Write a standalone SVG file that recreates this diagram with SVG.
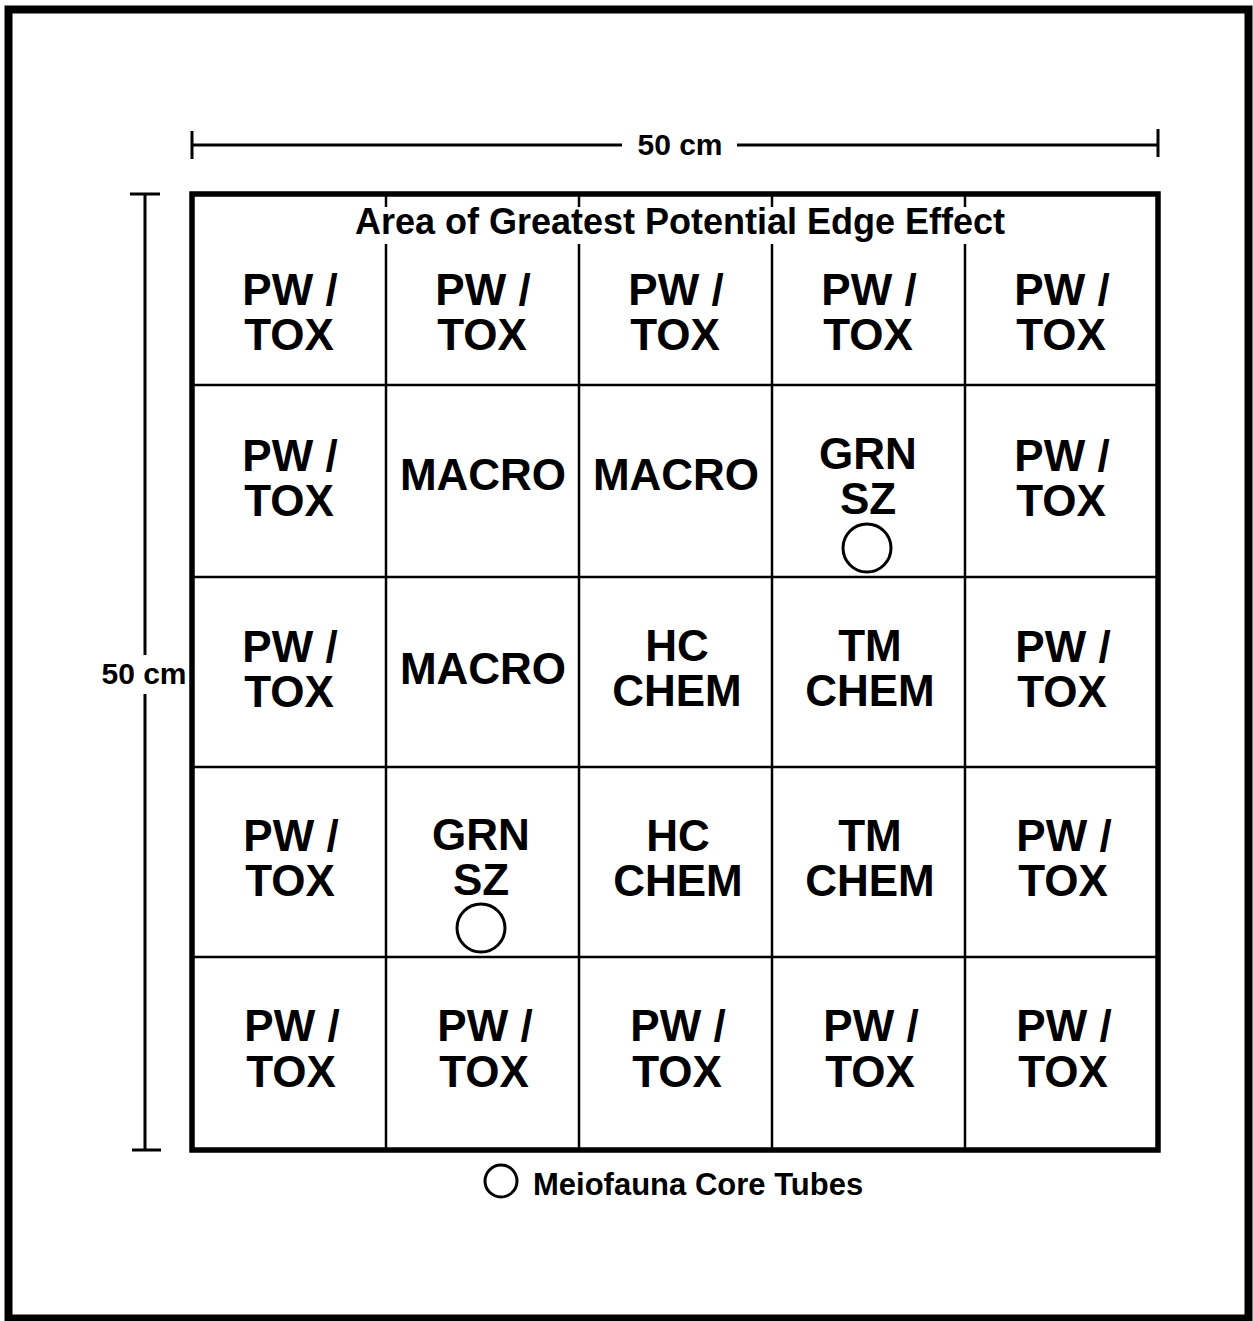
<svg xmlns="http://www.w3.org/2000/svg" width="1253" height="1321" viewBox="0 0 1253 1321">
<style>
.t{font-family:"Liberation Sans",Arial,Helvetica,sans-serif;font-weight:bold;fill:#000;text-anchor:middle}
.c{font-size:44px}
.thin{stroke:#000;stroke-width:2.5;fill:none}
.dim{stroke:#000;stroke-width:3;fill:none}
.tube{stroke:#000;stroke-width:3;fill:none}
</style>
<rect x="0" y="0" width="1253" height="1321" fill="#fff"/>
<rect id="frame" x="8.5" y="9.5" width="1240" height="1309" fill="none" stroke="#000" stroke-width="8"/>

<g id="dimensions">
  <line class="dim" x1="192" y1="145" x2="622" y2="145"/>
  <line class="dim" x1="737" y1="145" x2="1158" y2="145"/>
  <line class="dim" x1="192" y1="131" x2="192" y2="159"/>
  <line class="dim" x1="1158" y1="129" x2="1158" y2="157"/>
  <text class="t" x="680" y="155" font-size="30">50 cm</text>
  <line class="dim" x1="145" y1="194" x2="145" y2="655"/>
  <line class="dim" x1="145" y1="694" x2="145" y2="1150"/>
  <line class="dim" x1="130" y1="194" x2="160" y2="194"/>
  <line class="dim" x1="132" y1="1150" x2="161" y2="1150"/>
  <text class="t" x="144" y="684" font-size="30">50 cm</text>
</g>

<g id="grid">
  <rect x="192" y="194" width="966" height="956" fill="none" stroke="#000" stroke-width="5.5"/>
  <g class="thin">
    <line x1="386" y1="194" x2="386" y2="207"/><line x1="386" y1="244" x2="386" y2="1150"/>
    <line x1="579" y1="194" x2="579" y2="207"/><line x1="579" y1="244" x2="579" y2="1150"/>
    <line x1="772" y1="194" x2="772" y2="207"/><line x1="772" y1="244" x2="772" y2="1150"/>
    <line x1="965" y1="194" x2="965" y2="207"/><line x1="965" y1="244" x2="965" y2="1150"/>
    <line x1="192" y1="385" x2="1158" y2="385"/>
    <line x1="192" y1="577" x2="1158" y2="577"/>
    <line x1="192" y1="767" x2="1158" y2="767"/>
    <line x1="192" y1="957" x2="1158" y2="957"/>
  </g>
  <text id="title" class="t" x="680" y="234" font-size="36">Area of Greatest Potential Edge Effect</text>
</g>

<g id="r1c1"><text class="t c" x="290" y="305">PW /</text><text class="t c" x="289" y="350">TOX</text></g>
<g id="r1c2"><text class="t c" x="483" y="305">PW /</text><text class="t c" x="482" y="350">TOX</text></g>
<g id="r1c3"><text class="t c" x="676" y="305">PW /</text><text class="t c" x="675" y="350">TOX</text></g>
<g id="r1c4"><text class="t c" x="869" y="305">PW /</text><text class="t c" x="868" y="350">TOX</text></g>
<g id="r1c5"><text class="t c" x="1062" y="305">PW /</text><text class="t c" x="1061" y="350">TOX</text></g>

<g id="r2c1"><text class="t c" x="290" y="471">PW /</text><text class="t c" x="289" y="516">TOX</text></g>
<g id="r2c2"><text class="t c" x="483" y="490">MACRO</text></g>
<g id="r2c3"><text class="t c" x="676" y="490">MACRO</text></g>
<g id="r2c4"><text class="t c" x="868" y="469">GRN</text><text class="t c" x="868" y="514">SZ</text><circle class="tube" cx="867" cy="548" r="24"/></g>
<g id="r2c5"><text class="t c" x="1062" y="471">PW /</text><text class="t c" x="1061" y="516">TOX</text></g>

<g id="r3c1"><text class="t c" x="290" y="662">PW /</text><text class="t c" x="289" y="707">TOX</text></g>
<g id="r3c2"><text class="t c" x="483" y="684">MACRO</text></g>
<g id="r3c3"><text class="t c" x="677" y="661">HC</text><text class="t c" x="677" y="706">CHEM</text></g>
<g id="r3c4"><text class="t c" x="870" y="661">TM</text><text class="t c" x="870" y="706">CHEM</text></g>
<g id="r3c5"><text class="t c" x="1063" y="662">PW /</text><text class="t c" x="1062" y="707">TOX</text></g>

<g id="r4c1"><text class="t c" x="291" y="851">PW /</text><text class="t c" x="290" y="896">TOX</text></g>
<g id="r4c2"><text class="t c" x="481" y="850">GRN</text><text class="t c" x="481" y="895">SZ</text><circle class="tube" cx="481" cy="928" r="24"/></g>
<g id="r4c3"><text class="t c" x="678" y="851">HC</text><text class="t c" x="678" y="896">CHEM</text></g>
<g id="r4c4"><text class="t c" x="870" y="851">TM</text><text class="t c" x="870" y="896">CHEM</text></g>
<g id="r4c5"><text class="t c" x="1064" y="851">PW /</text><text class="t c" x="1063" y="896">TOX</text></g>

<g id="r5c1"><text class="t c" x="292" y="1041">PW /</text><text class="t c" x="291" y="1087">TOX</text></g>
<g id="r5c2"><text class="t c" x="485" y="1041">PW /</text><text class="t c" x="484" y="1087">TOX</text></g>
<g id="r5c3"><text class="t c" x="678" y="1041">PW /</text><text class="t c" x="677" y="1087">TOX</text></g>
<g id="r5c4"><text class="t c" x="871" y="1041">PW /</text><text class="t c" x="870" y="1087">TOX</text></g>
<g id="r5c5"><text class="t c" x="1064" y="1041">PW /</text><text class="t c" x="1063" y="1087">TOX</text></g>

<g id="legend">
  <circle class="tube" cx="501" cy="1181" r="16"/>
  <text class="t" x="533" y="1195" font-size="31" style="text-anchor:start">Meiofauna Core Tubes</text>
</g>
</svg>
